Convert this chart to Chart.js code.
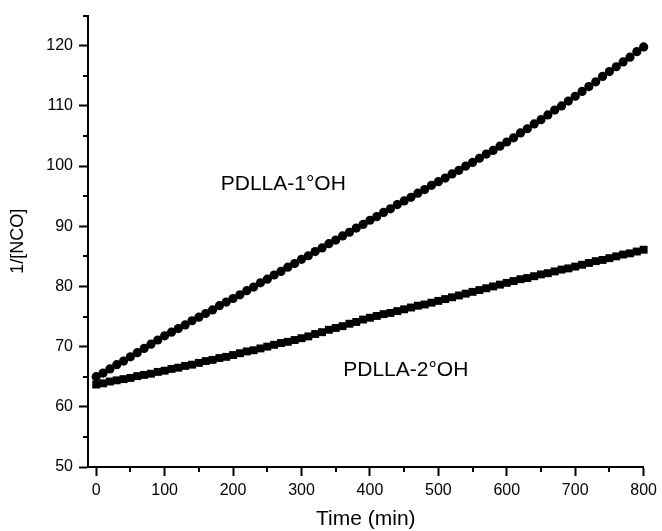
<!DOCTYPE html>
<html>
<head>
<meta charset="utf-8">
<script src="https://cdn.jsdelivr.net/npm/chart.js@4.4.1/dist/chart.umd.min.js"></script>
<style>
html,body{margin:0;padding:0;background:#fff;}
#wrap{width:662px;height:531px;position:relative;}
</style>
</head>
<body>
<div id="wrap"><canvas id="c" width="662" height="531"></canvas></div>
<script>
// Time (min), one reading every 10 min
const timeMin = [0,10,20,30,40,50,60,70,80,90,100,110,120,130,140,150,160,170,180,190,200,210,220,230,240,250,260,270,280,290,300,310,320,330,340,350,360,370,380,390,400,410,420,430,440,450,460,470,480,490,500,510,520,530,540,550,560,570,580,590,600,610,620,630,640,650,660,670,680,690,700,710,720,730,740,750,760,770,780,790,800];
// PDLLA-1°OH (circles)
const primaryOH = [65.0,65.6,66.3,67.0,67.6,68.3,69.0,69.7,70.4,71.1,71.8,72.4,73.0,73.6,74.3,74.9,75.5,76.1,76.8,77.4,78.0,78.6,79.3,79.9,80.6,81.2,81.9,82.5,83.2,83.8,84.5,85.1,85.8,86.4,87.1,87.7,88.4,89.0,89.7,90.3,91.0,91.6,92.3,92.9,93.6,94.2,94.8,95.5,96.1,96.8,97.4,98.0,98.7,99.3,100.0,100.6,101.3,102.0,102.6,103.3,104.0,104.7,105.5,106.2,107.0,107.7,108.5,109.3,110.0,110.8,111.6,112.4,113.2,114.0,114.9,115.7,116.5,117.3,118.1,119.0,119.8];
// PDLLA-2°OH (squares)
const secondaryOH = [63.7,63.9,64.2,64.4,64.6,64.8,65.1,65.3,65.5,65.8,66.0,66.3,66.5,66.8,67.0,67.3,67.6,67.8,68.1,68.3,68.6,68.9,69.2,69.4,69.7,70.0,70.3,70.6,70.8,71.1,71.4,71.7,72.1,72.4,72.8,73.1,73.4,73.8,74.1,74.5,74.8,75.1,75.4,75.6,75.9,76.2,76.5,76.8,77.0,77.3,77.6,77.9,78.2,78.5,78.8,79.1,79.4,79.7,80.0,80.3,80.6,80.9,81.2,81.4,81.7,82.0,82.2,82.5,82.8,83.0,83.3,83.6,83.9,84.2,84.4,84.7,85.0,85.3,85.5,85.8,86.1];

const xTicks = [0,100,200,300,400,500,600,700,800];
const xMinorTicks = [50,150,250,350,450,550,650,750];
const yTicks = [50,60,70,80,90,100,110,120];
const yMinorTicks = [55,65,75,85,95,105,115,125];

// in-plot labels: text with its anchor in data units
const seriesLabels = [
  {text: 'PDLLA-1°OH', t: 182, v: 97.0},
  {text: 'PDLLA-2°OH', t: 361, v: 66.1}
];

const FONT = "'Liberation Sans', Arial, Helvetica, sans-serif";

const extras = {
  id: 'extras',
  afterDraw(chart) {
    const ctx = chart.ctx;
    const xs = chart.scales.x, ys = chart.scales.y;
    const area = chart.chartArea;
    ctx.save();
    ctx.strokeStyle = '#000';
    ctx.lineWidth = 2;
    ctx.beginPath();
    xMinorTicks.forEach(v => {
      const px = Math.round(xs.getPixelForValue(v));
      ctx.moveTo(px, area.bottom);
      ctx.lineTo(px, area.bottom + 5);
    });
    yMinorTicks.forEach(v => {
      const py = Math.round(ys.getPixelForValue(v));
      ctx.moveTo(area.left, py);
      ctx.lineTo(area.left - 5, py);
    });
    ctx.stroke();
    ctx.fillStyle = '#000';
    ctx.font = '21px ' + FONT;
    ctx.textAlign = 'left';
    ctx.textBaseline = 'middle';
    seriesLabels.forEach(l => {
      ctx.fillText(l.text, xs.getPixelForValue(l.t), ys.getPixelForValue(l.v));
    });
    ctx.restore();
  }
};

new Chart(document.getElementById('c'), {
  type: 'scatter',
  data: {
    datasets: [
      {
        label: 'PDLLA-1°OH',
        data: timeMin.map((t, i) => ({x: t, y: primaryOH[i]})),
        pointStyle: 'circle',
        pointRadius: 4.6,
        backgroundColor: '#000',
        borderColor: '#000',
        borderWidth: 0,
        showLine: false,
        clip: false
      },
      {
        label: 'PDLLA-2°OH',
        data: timeMin.map((t, i) => ({x: t, y: secondaryOH[i]})),
        pointStyle: 'rect',
        pointRadius: 5.6,
        backgroundColor: '#000',
        borderColor: '#000',
        borderWidth: 0,
        showLine: false,
        clip: false
      }
    ]
  },
  options: {
    responsive: false,
    animation: false,
    events: [],
    layout: {padding: {top: 15, right: 15, left: 0, bottom: 0}},
    plugins: {legend: {display: false}, tooltip: {enabled: false}},
    scales: {
      x: {
        type: 'linear',
        min: -12,
        max: 800,
        afterBuildTicks: s => { s.ticks = xTicks.map(v => ({value: v})); },
        afterFit: s => { s.height = 64; },
        border: {display: true, color: '#000', width: 2},
        grid: {display: true, drawOnChartArea: false, drawTicks: true, tickLength: 9, tickWidth: 2, tickColor: '#000'},
        ticks: {color: '#000', font: {family: FONT, size: 16}, padding: 5, maxRotation: 0, autoSkip: false},
        title: {display: true, text: 'Time (min)', color: '#000', font: {family: FONT, size: 21, lineHeight: 1.1}, padding: {top: 0, bottom: 0}}
      },
      y: {
        type: 'linear',
        min: 50,
        max: 125,
        afterBuildTicks: s => { s.ticks = yTicks.map(v => ({value: v})); },
        afterFit: s => { s.width = 88; },
        border: {display: true, color: '#000', width: 2},
        grid: {display: true, drawOnChartArea: false, drawTicks: true, tickLength: 9, tickWidth: 2, tickColor: '#000'},
        ticks: {color: '#000', font: {family: FONT, size: 16}, padding: 6, autoSkip: false},
        title: {display: true, text: '1/[NCO]', color: '#000', font: {family: FONT, size: 18, lineHeight: 1.2}, padding: {top: 7, bottom: 0}}
      }
    }
  },
  plugins: [extras]
});
</script>
</body>
</html>
